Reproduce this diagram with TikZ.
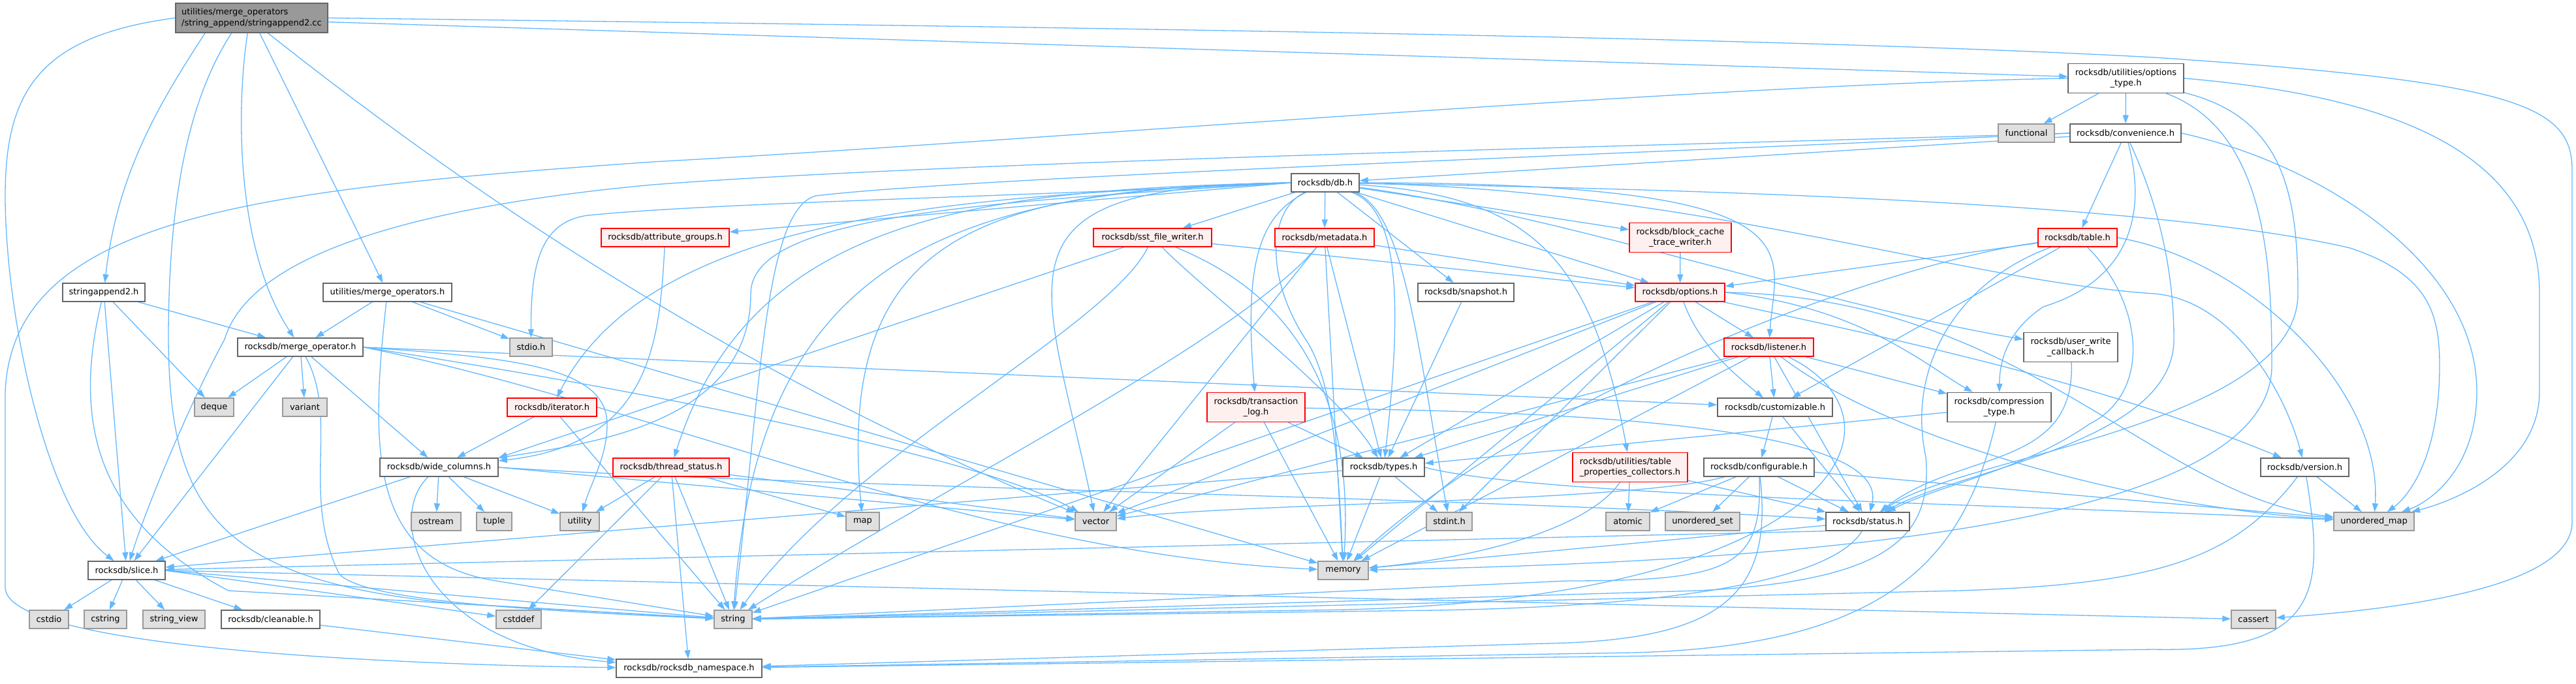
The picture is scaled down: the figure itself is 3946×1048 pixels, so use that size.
\documentclass[tikz,border=0pt]{standalone}
\usepackage{fontspec}
\setmainfont{DejaVu Sans}
\usetikzlibrary{arrows.meta,backgrounds}
\definecolor{edgeblue}{HTML}{63B8FF}
\definecolor{sysfill}{HTML}{E0E0E0}
\definecolor{sysline}{HTML}{999999}
\definecolor{fileline}{HTML}{666666}
\definecolor{redfill}{HTML}{FFF0F0}
\definecolor{redline}{HTML}{FF0000}
\definecolor{rootfill}{HTML}{999999}
\begin{document}
\begin{tikzpicture}[x=1pt,y=-1pt,
  base/.style={draw, line width=1.4pt, inner sep=0pt, minimum height=28pt, font=\fontsize{13pt}{16.7pt}\selectfont, align=center, text=black},
  filebox/.style={base, fill=white, draw=fileline},
  sysbox/.style={base, fill=sysfill, draw=sysline},
  redbox/.style={base, fill=redfill, draw=redline},
  rootbox/.style={base, fill=rootfill, draw=fileline},
  tall/.style={minimum height=45pt},
  edge/.style={draw=edgeblue, line width=1.3pt, -{Triangle[length=13pt,width=9pt]}},
]
\useasboundingbox (0,0) rectangle (3946,1048);
% ---- nodes ----
\node[rootbox, tall, minimum width=233pt, align=left] (root) at (385.5,27.5) {utilities/merge\_operators\\/string\_append/stringappend2.cc};
\node[filebox, minimum width=126pt] (sa2h) at (159,448) {stringappend2.h};
\node[filebox, minimum width=197pt] (mopsh) at (593.5,448) {utilities/merge\_operators.h};
\node[redbox, minimum width=196pt] (attr) at (1019,364) {rocksdb/attribute\_groups.h};
\node[filebox, minimum width=192pt] (mop) at (460,532) {rocksdb/merge\_operator.h};
\node[sysbox, minimum width=65pt] (stdio) at (813.5,532) {stdio.h};
\node[sysbox, minimum width=60pt] (deque) at (328,624) {deque};
\node[sysbox, minimum width=68pt] (variant) at (467,624) {variant};
\node[redbox, minimum width=137pt] (iter) at (845.5,624) {rocksdb/iterator.h};
\node[filebox, minimum width=181pt] (wide) at (672.5,716) {rocksdb/wide\_columns.h};
\node[redbox, minimum width=178pt] (thread) at (1028,716) {rocksdb/thread\_status.h};
\node[sysbox, minimum width=76pt] (ostream) at (668,799) {ostream};
\node[sysbox, minimum width=54pt] (tuple) at (757,799) {tuple};
\node[sysbox, minimum width=60pt] (utility) at (888,799) {utility};
\node[filebox, minimum width=118pt] (slice) at (194,874) {rocksdb/slice.h};
\node[sysbox, minimum width=60pt] (cstdio) at (75,949) {cstdio};
\node[sysbox, minimum width=65pt] (cstring) at (161.5,949) {cstring};
\node[sysbox, minimum width=95pt] (sview) at (266.5,949) {string\_view};
\node[filebox, minimum width=151pt] (clean) at (414.5,949) {rocksdb/cleanable.h};
\node[sysbox, minimum width=69pt] (cstddef) at (794.5,949) {cstddef};
\node[filebox, minimum width=223pt] (ns) at (1055.5,1024) {rocksdb/rocksdb\_namespace.h};
\node[sysbox, minimum width=51pt] (map) at (1321.5,799) {map};
\node[sysbox, minimum width=63pt] (vector) at (1678.5,799) {vector};
\node[sysbox, minimum width=58pt] (string) at (1123,949) {string};
\node[redbox, tall, minimum width=150pt] (txlog) at (1924,624) {rocksdb/transaction\\\_log.h};
\node[filebox, minimum width=104pt] (db) at (2030,280) {rocksdb/db.h};
\node[redbox, minimum width=181pt] (sst) at (1765.5,364) {rocksdb/sst\_file\_writer.h};
\node[redbox, minimum width=152pt] (meta) at (2029,364) {rocksdb/metadata.h};
\node[redbox, tall, minimum width=156pt] (bctw) at (2574,364) {rocksdb/block\_cache\\\_trace\_writer.h};
\node[filebox, minimum width=147pt] (snap) at (2245.5,448) {rocksdb/snapshot.h};
\node[redbox, minimum width=137pt] (opts) at (2573.5,448) {rocksdb/options.h};
\node[redbox, minimum width=137pt] (listener) at (2709.5,532) {rocksdb/listener.h};
\node[filebox, minimum width=176pt] (custom) at (2719,624) {rocksdb/customizable.h};
\node[filebox, minimum width=125pt] (types) at (2119.5,716) {rocksdb/types.h};
\node[redbox, tall, minimum width=176pt, align=left] (tpc) at (2497,716) {rocksdb/utilities/table\\\_properties\_collectors.h};
\node[filebox, minimum width=169pt] (config) at (2694.5,716) {rocksdb/configurable.h};
\node[sysbox, minimum width=70pt] (stdint) at (2220,799) {stdint.h};
\node[sysbox, minimum width=67pt] (atomic) at (2493.5,799) {atomic};
\node[sysbox, minimum width=114pt] (uset) at (2608,799) {unordered\_set};
\node[filebox, minimum width=128pt] (status) at (2861,799) {rocksdb/status.h};
\node[sysbox, minimum width=77pt] (memory) at (2057.5,874) {memory};
\node[filebox, tall, minimum width=177pt] (optype) at (3256.5,120) {rocksdb/utilities/options\\\_type.h};
\node[sysbox, minimum width=86pt] (functional) at (3104,204) {functional};
\node[filebox, minimum width=170pt] (conv) at (3256,204) {rocksdb/convenience.h};
\node[redbox, minimum width=121pt] (table) at (3182.5,364) {rocksdb/table.h};
\node[filebox, tall, minimum width=144pt] (uwc) at (3172,532) {rocksdb/user\_write\\\_callback.h};
\node[filebox, tall, minimum width=159pt] (comp) at (3062.5,624) {rocksdb/compression\\\_type.h};
\node[filebox, minimum width=135pt] (version) at (3530.5,716) {rocksdb/version.h};
\node[sysbox, minimum width=123pt] (umap) at (3636.5,799) {unordered\_map};
\node[sysbox, minimum width=68pt] (cassert) at (3452,949) {cassert};
% ---- edges ----
\begin{scope}[on background layer]
\fill[white] (0,0) rectangle (3946,1048);
% root
\draw[edge] (root.198) .. controls (250,150) and (180,260) .. (sa2h);
\draw[edge] (root.255) .. controls (362,160) and (360,380) .. (mop);
\draw[edge] (root.298) -- (mopsh);
\draw[edge] (root.west) .. controls (60,55) and (8,140) .. (8,300) .. controls (8,480) and (70,780) .. (slice);
\draw[edge] (root.217) .. controls (290,150) and (258,300) .. (258,520) .. controls (260,780) and (330,890) .. (700,925) -- (string);
\draw[edge] (root.317) .. controls (700,280) and (1100,560) .. (vector);
\draw[edge] (root.357) -- (optype);
\draw[edge] (root.east) .. controls (1500,40) and (2700,55) .. (3300,88) .. controls (3850,125) and (3940,160) .. (3940,260) -- (3940,800) .. controls (3940,905) and (3650,935) .. (cassert);
% stringappend2.h
\draw[edge] (sa2h) -- (deque);
\draw[edge] (sa2h) -- (mop);
\draw[edge] (sa2h) -- (slice);
\draw[edge] (sa2h) .. controls (110,650) and (150,800) .. (350,905) -- (string);
% merge_operators.h
\draw[edge] (mopsh) -- (mop);
\draw[edge] (mopsh) -- (stdio);
\draw[edge] (mopsh) -- (memory);
\draw[edge] (mopsh) .. controls (565,700) and (570,860) .. (760,890) -- (string);
% merge_operator.h
\draw[edge] (mop) -- (deque);
\draw[edge] (mop) -- (variant);
\draw[edge] (mop) -- (slice);
\draw[edge] (mop) -- (wide);
\draw[edge] (mop.east) -- (custom);
\draw[edge] (mop.east) .. controls (1000,620) and (1500,850) .. (memory);
\draw[edge] (mop.east) .. controls (1000,600) and (1500,700) .. (vector);
\draw[edge] (mop.east) .. controls (780,548) and (930,560) .. (930,650) .. controls (930,700) and (905,740) .. (utility);
\draw[edge] (mop) .. controls (520,640) and (460,760) .. (520,880) .. controls (560,920) and (800,935) .. (string);
% wide_columns.h
\draw[edge] (wide) -- (ostream);
\draw[edge] (wide) -- (tuple);
\draw[edge] (wide) -- (utility);
\draw[edge] (wide) -- (slice);
\draw[edge] (wide.east) -- (vector);
\draw[edge] (wide.east) .. controls (1200,745) and (2200,760) .. (status);
\draw[edge] (wide) .. controls (590,790) and (640,990) .. (ns);
% slice.h
\draw[edge] (slice) -- (cstdio);
\draw[edge] (slice) -- (cstring);
\draw[edge] (slice) -- (sview);
\draw[edge] (slice) -- (clean);
\draw[edge] (slice.east) -- (cstddef);
\draw[edge] (slice.east) -- (string);
\draw[edge] (slice.east) -- (cassert);
\draw[edge] (clean) -- (ns);
% iterator.h
\draw[edge] (iter) -- (wide);
\draw[edge] (iter) -- (string);
% thread_status.h
\draw[edge] (thread) -- (utility);
\draw[edge] (thread) -- (cstddef);
\draw[edge] (thread) -- (map);
\draw[edge] (thread) -- (vector);
\draw[edge] (thread) -- (string);
\draw[edge] (thread) -- (ns);
% attribute_groups.h
\draw[edge] (attr) .. controls (1010,520) and (1000,680) .. (wide);
% transaction_log.h
\draw[edge] (txlog) -- (vector);
\draw[edge] (txlog) -- (types);
\draw[edge] (txlog) -- (memory);
\draw[edge] (txlog) .. controls (2300,630) and (2900,640) .. (status);
% sst_file_writer.h
\draw[edge] (sst) -- (opts);
\draw[edge] (sst) -- (wide.north east);
\draw[edge] (sst) .. controls (1700,500) and (1300,700) .. (string);
\draw[edge] (sst) .. controls (1900,420) and (2080,520) .. (memory);
\draw[edge] (sst) .. controls (1850,450) and (2050,600) .. (types);
% metadata.h
\draw[edge] (meta) -- (opts);
\draw[edge] (meta) -- (types);
\draw[edge] (meta) -- (memory);
\draw[edge] (meta) .. controls (1900,520) and (1420,760) .. (string);
\draw[edge] (meta) -- (vector);
% db.h
\draw[edge] (db.west) -- (attr);
\draw[edge] (db) -- (bctw);
\draw[edge] (db.west) .. controls (1500,300) and (1000,320) .. (iter);
\draw[edge] (db) .. controls (2800,280) and (2720,380) .. (listener);
\draw[edge] (db) -- (meta);
\draw[edge] (db) -- (opts);
\draw[edge] (db) -- (snap);
\draw[edge] (db) -- (sst);
\draw[edge] (db.west) .. controls (1500,290) and (1150,330) .. (thread);
\draw[edge] (db) .. controls (1930,330) and (1905,400) .. (txlog);
\draw[edge] (db) .. controls (2140,320) and (2150,450) .. (types);
\draw[edge] (db) .. controls (2400,330) and (2800,470) .. (uwc);
\draw[edge] (db) .. controls (2350,300) and (2440,400) .. (tpc);
\draw[edge] (db) .. controls (2600,290) and (3000,430) .. (3300,450) .. controls (3420,460) and (3500,600) .. (version);
\draw[edge] (db.west) .. controls (1500,310) and (1150,330) .. (1150,450) .. controls (1150,650) and (900,680) .. (wide);
\draw[edge] (db) .. controls (2150,320) and (2170,520) .. (stdint);
\draw[edge] (db.west) .. controls (1600,300) and (1100,310) .. (900,330) .. controls (830,340) and (813,400) .. (stdio);
\draw[edge] (db.west) .. controls (1500,290) and (1280,360) .. (map);
\draw[edge] (db) .. controls (1945,320) and (1935,420) .. (2000,520) .. controls (2040,580) and (2050,700) .. (memory);
\draw[edge] (db.west) .. controls (1450,290) and (1160,400) .. (string);
\draw[edge] (db) .. controls (2600,290) and (3300,310) .. (3600,380) .. controls (3720,420) and (3737,480) .. (3737,560) .. controls (3737,700) and (3690,760) .. (umap);
\draw[edge] (db.west) .. controls (1500,285) and (1600,420) .. (vector);
% block_cache_trace_writer.h, snapshot.h
\draw[edge] (bctw) -- (opts);
\draw[edge] (snap) -- (types);
% options.h
\draw[edge] (opts) -- (vector);
\draw[edge] (opts) -- (types);
\draw[edge] (opts) -- (stdint);
\draw[edge] (opts) -- (memory);
\draw[edge] (opts) -- (string);
\draw[edge] (opts) -- (listener);
\draw[edge] (opts) .. controls (2600,520) and (2640,560) .. (custom);
\draw[edge] (opts.east) .. controls (2850,470) and (2950,560) .. (comp);
\draw[edge] (opts.east) .. controls (3100,455) and (3300,760) .. (umap);
\draw[edge] (opts) .. controls (2900,520) and (3200,580) .. (version);
% listener.h
\draw[edge] (listener) -- (vector);
\draw[edge] (listener) -- (types);
\draw[edge] (listener) -- (memory);
\draw[edge] (listener) -- (custom);
\draw[edge] (listener) -- (status);
\draw[edge] (listener) -- (comp);
\draw[edge] (listener) .. controls (2950,650) and (2800,930) .. (2000,935) -- (string);
\draw[edge] (listener) .. controls (2900,680) and (3300,780) .. (umap);
% customizable.h
\draw[edge] (custom) -- (config);
\draw[edge] (custom) -- (status);
% configurable.h
\draw[edge] (config) -- (atomic);
\draw[edge] (config) -- (uset);
\draw[edge] (config) -- (status);
\draw[edge] (config) .. controls (2500,770) and (1900,770) .. (vector);
\draw[edge] (config) .. controls (2700,870) and (2650,890) .. (2400,890) -- (string);
\draw[edge] (config) .. controls (2715,900) and (2650,975) .. (2400,985) -- (ns);
\draw[edge] (config) -- (umap);
% types.h
\draw[edge] (types) -- (stdint);
\draw[edge] (types) -- (memory);
\draw[edge] (types) -- (slice);
\draw[edge] (types.east) .. controls (2350,760) and (3000,770) .. (umap);
% table_properties_collectors.h
\draw[edge] (tpc) -- (atomic);
\draw[edge] (tpc) .. controls (2440,800) and (2300,850) .. (memory);
\draw[edge] (tpc) -- (status);
% status.h
\draw[edge] (status) -- (memory);
\draw[edge] (status) .. controls (2800,900) and (2500,930) .. (2200,935) -- (string);
\draw[edge] (status.south west) -- (slice);
% compression_type.h
\draw[edge] (comp) -- (types);
\draw[edge] (comp) .. controls (3010,850) and (2900,990) .. (2500,1000) -- (ns);
% version.h
\draw[edge] (version) -- (umap);
\draw[edge] (version) .. controls (3420,860) and (3300,895) .. (3000,905) -- (string);
\draw[edge] (version) .. controls (3560,900) and (3560,1000) .. (3300,995) -- (ns);
% user_write_callback.h
\draw[edge] (uwc) .. controls (3180,720) and (3000,690) .. (status);
% options_type.h
\draw[edge] (optype) -- (functional);
\draw[edge] (optype) -- (conv);
\draw[edge] (optype) .. controls (3470,200) and (3480,400) .. (3480,560) .. controls (3480,800) and (2800,860) .. (memory);
\draw[edge] (optype.east) .. controls (3700,150) and (3890,250) .. (3890,450) -- (3890,600) .. controls (3890,720) and (3750,770) .. (umap);
\draw[edge] (optype) .. controls (3500,180) and (3520,300) .. (3520,450) .. controls (3520,650) and (3000,700) .. (status);
\draw[edge] (optype.west) .. controls (2600,130) and (1600,215) .. (1000,248) .. controls (400,290) and (20,330) .. (8,600) -- (8,900) .. controls (8,1000) and (700,1020) .. (ns);
% convenience.h
\draw[edge] (conv) -- (db);
\draw[edge] (conv) -- (table);
\draw[edge] (conv) .. controls (3290,330) and (3260,430) .. (3130,470) .. controls (3070,510) and (3063,560) .. (comp);
\draw[edge] (conv) .. controls (3300,300) and (3330,400) .. (3330,520) .. controls (3330,680) and (3000,720) .. (status);
\draw[edge] (conv.east) .. controls (3550,250) and (3794,400) .. (3794,600) .. controls (3794,720) and (3720,770) .. (umap);
\draw[edge] (conv.west) .. controls (2600,222) and (1500,245) .. (1000,283) .. controls (600,320) and (380,400) .. (344,520) .. controls (300,600) and (230,760) .. (slice);
\draw[edge] (conv.west) .. controls (2600,232) and (1500,270) .. (1250,300) .. controls (1170,320) and (1165,600) .. (string);
% table.h
\draw[edge] (table) -- (opts);
\draw[edge] (table) -- (custom);
\draw[edge] (table) .. controls (2900,400) and (2350,600) .. (memory);
\draw[edge] (table) .. controls (3000,430) and (2920,560) .. (2950,700) .. controls (2960,820) and (2900,890) .. (2600,905) -- (string);
\draw[edge] (table.east) .. controls (3450,400) and (3650,600) .. (umap);
\draw[edge] (table) .. controls (3280,460) and (3300,600) .. (3200,650) .. controls (3100,720) and (2980,740) .. (status);
\end{scope}
\end{tikzpicture}
\end{document}
